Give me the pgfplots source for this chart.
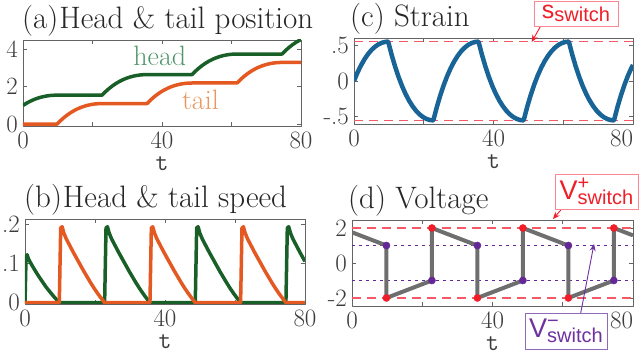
\documentclass[border=0pt]{standalone}
\usepackage{pgfplots}
\pgfplotsset{compat=1.18}
\usepackage{fontspec}
\newfontfamily\hv{Liberation Sans}
\usetikzlibrary{arrows.meta}
\definecolor{headgreen}{RGB}{25,95,40}
\definecolor{tailorange}{RGB}{228,88,34}
\definecolor{headtxt}{RGB}{80,150,105}
\definecolor{tailtxt}{RGB}{232,150,95}
\definecolor{strainblue}{RGB}{25,100,150}
\definecolor{voltgray}{RGB}{110,110,110}
\definecolor{dotred}{RGB}{240,30,40}
\definecolor{dashred}{RGB}{245,90,100}
\definecolor{dotpurple}{RGB}{100,40,150}
\definecolor{boxred}{RGB}{250,135,145}
\definecolor{annred}{RGB}{240,30,40}
\definecolor{boxpurple}{RGB}{145,105,185}
\definecolor{annpurple}{RGB}{110,50,160}
\definecolor{axgray}{RGB}{100,100,100}
\definecolor{lblgray}{RGB}{60,60,60}
\pgfplotsset{panel/.style={
  scale only axis, anchor=south west,
  xmin=0, xmax=80, xtick={0,20,40,60,80}, xticklabels={0,,40,,80},
  tick align=inside, major tick length=4pt,
  axis line style={draw=axgray, line width=0.9pt},
  every tick/.style={draw=axgray, line width=0.9pt},
  tick label style={font=\fontsize{25}{25}\selectfont, text=lblgray},
  xticklabel style={inner sep=0pt, yshift=-6pt},
  yticklabel style={inner sep=0pt, xshift=-5pt},
  xlabel={\texttt{t}},
  every axis x label/.style={font=\fontsize{25}{25}\selectfont, text=lblgray, at={(axis description cs:0.5,0)}, anchor=north, inner sep=0pt, yshift=-30pt},
  every axis title/.style={font=\fontsize{31}{31}\selectfont, text=black!85, at={(axis description cs:0,1)}, anchor=base west, inner sep=0pt, yshift=11pt},
  line join=round,
}}
\begin{document}
\begin{tikzpicture}[x=1pt,y=1pt]
\useasboundingbox (0,0) rectangle (640,352);
% (a)
\begin{axis}[panel, at={(23pt,226pt)}, width=278pt, height=86pt,
  ymin=-0.1, ymax=4.5, ytick={0,2,4},
  title={(a)\kern1pt Head \& tail position}, title style={xshift=-1pt}]
\addplot[headgreen, line width=3.5pt] coordinates {
(0,1) (1,1.118) (2,1.217) (3,1.303) (4,1.374) (5,1.432) (6,1.477) (7,1.511) (8,1.534) (9,1.546) (9.8,1.55)
(22.75,1.55) (23.75,1.736) (24.75,1.901) (25.75,2.046) (26.75,2.173) (27.75,2.282) (28.75,2.375) (29.75,2.452) (30.75,2.516) (31.75,2.566) (32.75,2.604) (33.75,2.630) (34.75,2.645) (35.7,2.65)
(48.65,2.65) (49.65,2.836) (50.65,3.001) (51.65,3.146) (52.65,3.273) (53.65,3.382) (54.65,3.475) (55.65,3.552) (56.65,3.616) (57.65,3.666) (58.65,3.704) (59.65,3.730) (60.65,3.745) (61.6,3.75)
(74.55,3.75) (75.55,3.936) (76.55,4.101) (77.55,4.246) (78.55,4.373) (79.55,4.482) (80,4.52)};
\addplot[tailorange, line width=3.5pt] coordinates {
(0,0) (9.8,0) (10.8,0.186) (11.8,0.351) (12.8,0.496) (13.8,0.623) (14.8,0.732) (15.8,0.825) (16.8,0.902) (17.8,0.966) (18.8,1.016) (19.8,1.054) (20.8,1.080) (21.8,1.095) (22.75,1.1)
(35.7,1.1) (36.7,1.286) (37.7,1.451) (38.7,1.596) (39.7,1.723) (40.7,1.832) (41.7,1.925) (42.7,2.002) (43.7,2.066) (44.7,2.116) (45.7,2.154) (46.7,2.180) (47.7,2.195) (48.65,2.2)
(61.6,2.2) (62.6,2.386) (63.6,2.551) (64.6,2.696) (65.6,2.823) (66.6,2.932) (67.6,3.025) (68.6,3.102) (69.6,3.166) (70.6,3.216) (71.6,3.254) (72.6,3.280) (73.6,3.295) (74.55,3.3) (80,3.3)};
\node[anchor=base west, inner sep=0pt, text=headtxt, font=\fontsize{28}{28}\selectfont] at (axis cs:31.7,3.16) {head};
\node[anchor=base west, inner sep=0pt, text=tailtxt, font=\fontsize{28}{28}\selectfont] at (axis cs:45.7,0.79) {tail};
\end{axis}
% the reference crops panel (a) at its right edge
\fill[white] (322,300) rectangle (347,352);
% (b)
\begin{axis}[panel, at={(25pt,48pt)}, width=280pt, height=85pt,
  ymin=-0.0033, ymax=0.2127, ytick={0,0.1,0.2}, yticklabels={0,.1,.2},
  title={(b)\kern1pt Head \& tail speed}, title style={xshift=-1pt}]
\addplot[headgreen, line width=3.5pt] coordinates {
(0,0) (0.3,0.115) (0.6,0.122) (1,0.111) (2,0.095) (3,0.080) (4,0.066) (5,0.053) (6,0.040) (7,0.029) (8,0.018) (9,0.008) (9.8,0)
(22.75,0) (23.15,0.19) (23.55,0.193) (24.05,0.177) (24.75,0.162) (25.75,0.145) (26.75,0.128) (27.75,0.112) (28.75,0.096) (29.75,0.080) (30.75,0.065) (31.75,0.050) (32.75,0.036) (33.75,0.023) (34.75,0.011) (35.7,0)
(48.65,0) (49.05,0.19) (49.45,0.193) (49.95,0.177) (50.65,0.162) (51.65,0.145) (52.65,0.128) (53.65,0.112) (54.65,0.096) (55.65,0.080) (56.65,0.065) (57.65,0.050) (58.65,0.036) (59.65,0.023) (60.65,0.011) (61.6,0)
(74.55,0) (74.95,0.19) (75.35,0.193) (75.85,0.177) (76.55,0.162) (77.55,0.145) (78.55,0.128) (79.55,0.112) (80,0.105)};
\addplot[tailorange, line width=3.5pt] coordinates {
(0,0) (9.8,0) (10.2,0.19) (10.6,0.193) (11.1,0.177) (11.8,0.162) (12.8,0.145) (13.8,0.128) (14.8,0.112) (15.8,0.096) (16.8,0.080) (17.8,0.065) (18.8,0.050) (19.8,0.036) (20.8,0.023) (21.8,0.011) (22.75,0)
(35.7,0) (36.1,0.19) (36.5,0.193) (37.0,0.177) (37.7,0.162) (38.7,0.145) (39.7,0.128) (40.7,0.112) (41.7,0.096) (42.7,0.080) (43.7,0.065) (44.7,0.050) (45.7,0.036) (46.7,0.023) (47.7,0.011) (48.65,0)
(61.6,0) (62.0,0.19) (62.4,0.193) (62.9,0.177) (63.6,0.162) (64.6,0.145) (65.6,0.128) (66.6,0.112) (67.6,0.096) (68.6,0.080) (69.6,0.065) (70.6,0.050) (71.6,0.036) (72.6,0.023) (73.6,0.011) (74.55,0) (80,0)};
\end{axis}
% (c)
\begin{axis}[panel, at={(354pt,228pt)}, width=279pt, height=86pt,
  ymin=-0.6, ymax=0.6, ytick={-0.5,0,0.5}, yticklabels={-.5,0,.5},
  xticklabels={0,,40,,\makebox[0pt][r]{80}},
  title={(c) Strain}, title style={xshift=-4pt}]
\addplot[dashred, line width=1.4pt, dash pattern=on 9pt off 6pt] coordinates {(0,0.55) (80,0.55)};
\addplot[dashred, line width=1.4pt, dash pattern=on 9pt off 6pt] coordinates {(0,-0.55) (80,-0.55)};
\addplot[strainblue, line width=4.5pt] coordinates {
(0,0) (1,0.118) (2,0.217) (3,0.303) (4,0.374) (5,0.432) (6,0.477) (7,0.511) (8,0.534) (9,0.546) (9.8,0.55)
(10.8,0.364) (11.8,0.199) (12.8,0.054) (13.8,-0.073) (14.8,-0.182) (15.8,-0.275) (16.8,-0.352) (17.8,-0.416) (18.8,-0.466) (19.8,-0.504) (20.8,-0.530) (21.8,-0.545) (22.75,-0.55)
(23.75,-0.364) (24.75,-0.199) (25.75,-0.054) (26.75,0.073) (27.75,0.182) (28.75,0.275) (29.75,0.352) (30.75,0.416) (31.75,0.466) (32.75,0.504) (33.75,0.530) (34.75,0.545) (35.7,0.55)
(36.7,0.364) (37.7,0.199) (38.7,0.054) (39.7,-0.073) (40.7,-0.182) (41.7,-0.275) (42.7,-0.352) (43.7,-0.416) (44.7,-0.466) (45.7,-0.504) (46.7,-0.530) (47.7,-0.545) (48.65,-0.55)
(49.65,-0.364) (50.65,-0.199) (51.65,-0.054) (52.65,0.073) (53.65,0.182) (54.65,0.275) (55.65,0.352) (56.65,0.416) (57.65,0.466) (58.65,0.504) (59.65,0.530) (60.65,0.545) (61.6,0.55)
(62.6,0.364) (63.6,0.199) (64.6,0.054) (65.6,-0.073) (66.6,-0.182) (67.6,-0.275) (68.6,-0.352) (69.6,-0.416) (70.6,-0.466) (71.6,-0.504) (72.6,-0.530) (73.6,-0.545) (74.55,-0.55)
(75.55,-0.364) (76.55,-0.199) (77.55,-0.054) (78.55,0.073) (79.55,0.182) (80,0.224)};
\end{axis}
% (d)
\begin{axis}[panel, at={(352pt,46pt)}, width=281pt, height=86pt,
  ymin=-2.46, ymax=2.46, ytick={-2,0,2}, yticklabels={-2,0,2},
  xticklabels={0,,40,,\makebox[0pt][r]{80}},
  title={(d) Voltage}, title style={xshift=-4pt}]
\addplot[dashred, line width=1.4pt, dash pattern=on 9pt off 6pt] coordinates {(0,2) (80,2)};
\addplot[dashred, line width=1.4pt, dash pattern=on 9pt off 6pt] coordinates {(0,-2) (80,-2)};
\addplot[dotpurple, line width=0.9pt, dash pattern=on 3pt off 4pt] coordinates {(0,1) (80,1)};
\addplot[dotpurple, line width=0.9pt, dash pattern=on 3pt off 4pt] coordinates {(0,-1) (80,-1)};
\addplot[voltgray, line width=4pt] coordinates {
(0,1.757) (9.8,1) (9.8,-2) (22.75,-1) (22.75,2) (35.7,1) (35.7,-2) (48.65,-1) (48.65,2) (61.6,1) (61.6,-2) (74.55,-1) (74.55,2) (80,1.58)};
\addplot[only marks, mark=*, mark size=3.6pt, mark options={fill=dotred, draw=dotred}] coordinates {
(9.8,-2) (22.75,2) (35.7,-2) (48.65,2) (61.6,-2) (74.55,2)};
\addplot[only marks, mark=*, mark size=3.6pt, mark options={fill=dotpurple, draw=dotpurple}] coordinates {
(9.8,1) (22.75,-1) (35.7,1) (48.65,-1) (61.6,1) (74.55,-1)};
\end{axis}
% annotations
\draw[annred, line width=0.9pt, -{Stealth[length=7pt,width=6pt]}] (540.7,326) -- (531.7,310);
\node[draw=boxred, fill=white, line width=0.9pt, minimum width=84pt, minimum height=25pt, inner sep=0pt] at (576,338.5)
  {\hv\color{annred}\fontsize{25}{25}\selectfont s\raisebox{-3pt}{\fontsize{20}{20}\selectfont switch}};
\draw[annred, line width=0.9pt, -{Stealth[length=7pt,width=6pt]}] (561.7,143) -- (553,133);
\node[draw=boxred, fill=white, line width=0.9pt, minimum width=83pt, minimum height=35pt, inner sep=0pt] at (596.5,160.5)
  {\hv\color{annred}{\fontsize{27}{27}\selectfont V}\raisebox{-5pt}{\fontsize{20}{20}\selectfont\rlap{\raisebox{15pt}{+}}switch}};
\draw[annpurple, line width=0.9pt, -{Stealth[length=7pt,width=6pt]}] (580.7,39) -- (594,108);
\node[draw=boxpurple, fill=white, line width=0.9pt, minimum width=82pt, minimum height=36pt, inner sep=0pt] at (566,21)
  {\hv\color{annpurple}{\fontsize{27}{27}\selectfont V}\raisebox{-5pt}{\fontsize{20}{20}\selectfont\rlap{\raisebox{15pt}{\char"2212}}switch}};
\end{tikzpicture}
\end{document}
